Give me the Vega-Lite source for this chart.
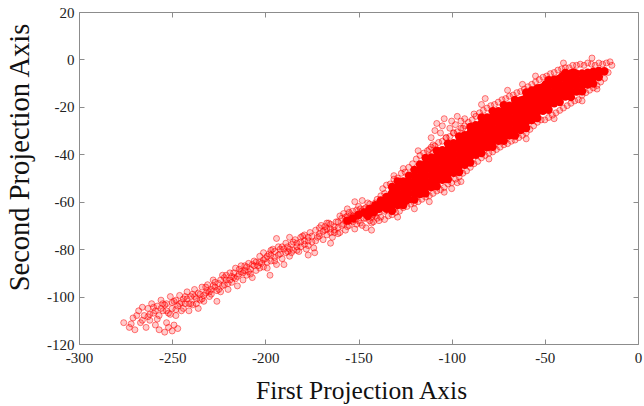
{
"$schema": "https://vega.github.io/schema/vega-lite/v6.json",
"width": 559, "height": 332,
"autosize": {"type": "none"},
"padding": {"left": 79, "top": 12, "right": 6, "bottom": 62},
"background": "white",
"config": {"view": {"stroke": "#8c8c8c", "strokeWidth": 1}, "font": "Liberation Serif"},
"datasets": {
"core": [
{"x":-156,"y":-68},{"x":-153,"y":-67},{"x":-150,"y":-65.5},{"x":-147,"y":-64.5},{"x":-145,"y":-66},{"x":-144,"y":-63},{"x":-142,"y":-64.5},{"x":-141,"y":-61.5},{"x":-139,"y":-63},
{"x":-138,"y":-62},{"x":-138,"y":-59.5},
{"x":-135,"y":-63},{"x":-135,"y":-60.5},{"x":-135,"y":-58},
{"x":-132,"y":-63.8},{"x":-132,"y":-61.3},{"x":-132,"y":-58.8},{"x":-132,"y":-56.3},{"x":-132,"y":-53.8},
{"x":-129,"y":-61.4},{"x":-129,"y":-58.9},{"x":-129,"y":-56.4},{"x":-129,"y":-53.9},{"x":-129,"y":-51.4},
{"x":-126,"y":-61.4},{"x":-126,"y":-58.9},{"x":-126,"y":-56.4},{"x":-126,"y":-53.9},{"x":-126,"y":-51.4},
{"x":-123,"y":-59},{"x":-123,"y":-56.5},{"x":-123,"y":-54},{"x":-123,"y":-51.5},{"x":-123,"y":-49},
{"x":-120,"y":-59.1},{"x":-120,"y":-56.6},{"x":-120,"y":-54.1},{"x":-120,"y":-51.6},{"x":-120,"y":-49.1},{"x":-120,"y":-46.6},
{"x":-117,"y":-56.8},{"x":-117,"y":-54.3},{"x":-117,"y":-51.8},{"x":-117,"y":-49.3},{"x":-117,"y":-46.8},{"x":-117,"y":-44.3},
{"x":-114,"y":-56.5},{"x":-114,"y":-54},{"x":-114,"y":-51.5},{"x":-114,"y":-49},{"x":-114,"y":-46.5},{"x":-114,"y":-44},{"x":-114,"y":-41.5},
{"x":-111,"y":-53.8},{"x":-111,"y":-51.3},{"x":-111,"y":-48.8},{"x":-111,"y":-46.3},{"x":-111,"y":-43.8},{"x":-111,"y":-41.3},
{"x":-108,"y":-53.5},{"x":-108,"y":-51},{"x":-108,"y":-48.5},{"x":-108,"y":-46},{"x":-108,"y":-43.5},{"x":-108,"y":-41},{"x":-108,"y":-38.5},
{"x":-105,"y":-50.8},{"x":-105,"y":-48.3},{"x":-105,"y":-45.8},{"x":-105,"y":-43.3},{"x":-105,"y":-40.8},{"x":-105,"y":-38.3},
{"x":-102,"y":-50.5},{"x":-102,"y":-48},{"x":-102,"y":-45.5},{"x":-102,"y":-43},{"x":-102,"y":-40.5},{"x":-102,"y":-38},{"x":-102,"y":-35.5},
{"x":-99,"y":-47.8},{"x":-99,"y":-45.3},{"x":-99,"y":-42.8},{"x":-99,"y":-40.3},{"x":-99,"y":-37.8},{"x":-99,"y":-35.3},
{"x":-96,"y":-47.5},{"x":-96,"y":-45},{"x":-96,"y":-42.5},{"x":-96,"y":-40},{"x":-96,"y":-37.5},{"x":-96,"y":-35},{"x":-96,"y":-32.5},
{"x":-93,"y":-44.4},{"x":-93,"y":-41.9},{"x":-93,"y":-39.4},{"x":-93,"y":-36.9},{"x":-93,"y":-34.4},{"x":-93,"y":-31.9},
{"x":-90,"y":-43.5},{"x":-90,"y":-41},{"x":-90,"y":-38.5},{"x":-90,"y":-36},{"x":-90,"y":-33.5},{"x":-90,"y":-31},{"x":-90,"y":-28.5},
{"x":-87,"y":-40.2},{"x":-87,"y":-37.7},{"x":-87,"y":-35.2},{"x":-87,"y":-32.7},{"x":-87,"y":-30.2},{"x":-87,"y":-27.7},
{"x":-84,"y":-39.5},{"x":-84,"y":-37},{"x":-84,"y":-34.5},{"x":-84,"y":-32},{"x":-84,"y":-29.5},{"x":-84,"y":-27},{"x":-84,"y":-24.5},
{"x":-81,"y":-37},{"x":-81,"y":-34.5},{"x":-81,"y":-32},{"x":-81,"y":-29.5},{"x":-81,"y":-27},{"x":-81,"y":-24.5},
{"x":-78,"y":-36.8},{"x":-78,"y":-34.3},{"x":-78,"y":-31.8},{"x":-78,"y":-29.3},{"x":-78,"y":-26.8},{"x":-78,"y":-24.3},{"x":-78,"y":-21.8},
{"x":-75,"y":-34.3},{"x":-75,"y":-31.8},{"x":-75,"y":-29.3},{"x":-75,"y":-26.8},{"x":-75,"y":-24.3},{"x":-75,"y":-21.8},
{"x":-72,"y":-34.3},{"x":-72,"y":-31.8},{"x":-72,"y":-29.3},{"x":-72,"y":-26.8},{"x":-72,"y":-24.3},{"x":-72,"y":-21.8},{"x":-72,"y":-19.3},
{"x":-69,"y":-32},{"x":-69,"y":-29.5},{"x":-69,"y":-27},{"x":-69,"y":-24.5},{"x":-69,"y":-22},{"x":-69,"y":-19.5},
{"x":-66,"y":-32.1},{"x":-66,"y":-29.6},{"x":-66,"y":-27.1},{"x":-66,"y":-24.6},{"x":-66,"y":-22.1},{"x":-66,"y":-19.6},{"x":-66,"y":-17.1},
{"x":-63,"y":-29.8},{"x":-63,"y":-27.3},{"x":-63,"y":-24.8},{"x":-63,"y":-22.3},{"x":-63,"y":-19.8},{"x":-63,"y":-17.3},
{"x":-60,"y":-28.9},{"x":-60,"y":-26.4},{"x":-60,"y":-23.9},{"x":-60,"y":-21.4},{"x":-60,"y":-18.9},{"x":-60,"y":-16.4},{"x":-60,"y":-13.9},
{"x":-57,"y":-25.6},{"x":-57,"y":-23.1},{"x":-57,"y":-20.6},{"x":-57,"y":-18.1},{"x":-57,"y":-15.6},{"x":-57,"y":-13.1},
{"x":-54,"y":-24.7},{"x":-54,"y":-22.2},{"x":-54,"y":-19.7},{"x":-54,"y":-17.2},{"x":-54,"y":-14.7},{"x":-54,"y":-12.2},
{"x":-51,"y":-21.7},{"x":-51,"y":-19.2},{"x":-51,"y":-16.7},{"x":-51,"y":-14.2},{"x":-51,"y":-11.7},
{"x":-48,"y":-21.2},{"x":-48,"y":-18.7},{"x":-48,"y":-16.2},{"x":-48,"y":-13.7},{"x":-48,"y":-11.2},{"x":-48,"y":-8.7},
{"x":-45,"y":-18.5},{"x":-45,"y":-16},{"x":-45,"y":-13.5},{"x":-45,"y":-11},{"x":-45,"y":-8.5},
{"x":-42,"y":-18},{"x":-42,"y":-15.5},{"x":-42,"y":-13},{"x":-42,"y":-10.5},{"x":-42,"y":-8},
{"x":-39,"y":-15.7},{"x":-39,"y":-13.2},{"x":-39,"y":-10.7},{"x":-39,"y":-8.2},{"x":-39,"y":-5.7},
{"x":-36,"y":-15.9},{"x":-36,"y":-13.4},{"x":-36,"y":-10.9},{"x":-36,"y":-8.4},{"x":-36,"y":-5.9},
{"x":-33,"y":-13.5},{"x":-33,"y":-11},{"x":-33,"y":-8.5},{"x":-33,"y":-6},
{"x":-30,"y":-13.4},{"x":-30,"y":-10.9},{"x":-30,"y":-8.4},{"x":-30,"y":-5.9},
{"x":-27,"y":-10.6},{"x":-27,"y":-8.1},{"x":-27,"y":-5.6},
{"x":-24,"y":-10.2},{"x":-24,"y":-7.7},{"x":-24,"y":-5.2},
{"x":-21,"y":-7.4},{"x":-21,"y":-4.9},
{"x":-18,"y":-5},
{"x":-130.5,"y":-60},{"x":-127.5,"y":-57.5},{"x":-124.5,"y":-55},{"x":-121.5,"y":-52.5},{"x":-118.5,"y":-50.5},{"x":-115.5,"y":-48},{"x":-112.5,"y":-45.5},{"x":-109.5,"y":-44.5},{"x":-106.5,"y":-42},{"x":-103.5,"y":-39.5},{"x":-100.5,"y":-38.5},{"x":-97.5,"y":-36.5},{"x":-94.5,"y":-34},{"x":-91.5,"y":-32},{"x":-88.5,"y":-30},{"x":-85.5,"y":-28.5},{"x":-82.5,"y":-27.5},{"x":-79.5,"y":-25.5},{"x":-76.5,"y":-23.5},{"x":-73.5,"y":-22.5},{"x":-70.5,"y":-21},{"x":-67.5,"y":-20},{"x":-64.5,"y":-18.5},{"x":-61.5,"y":-17},{"x":-58.5,"y":-15},{"x":-55.5,"y":-13.5},{"x":-52.5,"y":-12},{"x":-49.5,"y":-10.5},{"x":-46.5,"y":-9.5},{"x":-43.5,"y":-8.5},{"x":-40.5,"y":-7},{"x":-37.5,"y":-6.5},{"x":-34.5,"y":-5.5},
{"x":-130.5,"y":-56},{"x":-124.5,"y":-59.5},{"x":-118.5,"y":-55},{"x":-112.5,"y":-52},{"x":-106.5,"y":-49},{"x":-100.5,"y":-45},{"x":-94.5,"y":-42},{"x":-88.5,"y":-38},{"x":-82.5,"y":-35},{"x":-76.5,"y":-31.5},{"x":-70.5,"y":-28.5},{"x":-64.5,"y":-25.5},{"x":-58.5,"y":-22},{"x":-52.5,"y":-18.5},{"x":-46.5,"y":-15.5},{"x":-40.5,"y":-12.5},{"x":-34.5,"y":-10},{"x":-28.5,"y":-8.5}
],
"pts": [
{"x":-276,"y":-111},{"x":-273,"y":-113},{"x":-271,"y":-109},{"x":-270,"y":-114},{"x":-268,"y":-106},{"x":-267,"y":-111},{"x":-265,"y":-108},{"x":-264,"y":-113},{"x":-266,"y":-104.5},
{"x":-263,"y":-105},{"x":-262,"y":-110},{"x":-261,"y":-103},{"x":-260,"y":-107},{"x":-259,"y":-112},{"x":-258,"y":-104},{"x":-257,"y":-108},{"x":-256,"y":-101.5},{"x":-255,"y":-106},{"x":-257,"y":-114},{"x":-254,"y":-115},
{"x":-252,"y":-113},{"x":-250,"y":-114.5},{"x":-249,"y":-112},{"x":-247,"y":-113.5},{"x":-253,"y":-111},
{"x":-253,"y":-103},{"x":-252,"y":-107},{"x":-251,"y":-100},{"x":-250,"y":-105},{"x":-249,"y":-102},{"x":-248,"y":-108},{"x":-247,"y":-104},{"x":-246,"y":-99.5},{"x":-245,"y":-106},{"x":-244,"y":-101},
{"x":-243,"y":-103},{"x":-242,"y":-98},{"x":-241,"y":-106},{"x":-240,"y":-100},{"x":-239,"y":-103.5},{"x":-238,"y":-97},{"x":-237,"y":-101},{"x":-236,"y":-105},{"x":-235,"y":-99},{"x":-234,"y":-96},
{"x":-233,"y":-102},{"x":-232,"y":-98.5},{"x":-231,"y":-95},{"x":-230,"y":-100},{"x":-229,"y":-97},{"x":-228,"y":-93},{"x":-227,"y":-96},{"x":-226,"y":-102},{"x":-225,"y":-94.5},{"x":-224,"y":-98},
{"x":-223,"y":-91},{"x":-222,"y":-95},{"x":-221,"y":-93},{"x":-220,"y":-97},{"x":-219,"y":-90},{"x":-218,"y":-94},{"x":-217,"y":-92},{"x":-216,"y":-88},{"x":-215,"y":-95.5},{"x":-214,"y":-90.5},
{"x":-213,"y":-87},{"x":-212,"y":-93},{"x":-211,"y":-89},{"x":-210,"y":-91},{"x":-209,"y":-86},{"x":-208,"y":-88.5},{"x":-207,"y":-92},{"x":-206,"y":-85},{"x":-205,"y":-89},{"x":-204,"y":-87},
{"x":-203,"y":-83},{"x":-202,"y":-86},{"x":-201,"y":-81.5},{"x":-200,"y":-84},{"x":-199,"y":-88},{"x":-198,"y":-82},{"x":-197,"y":-85},{"x":-196,"y":-80},{"x":-195,"y":-83.5},{"x":-194,"y":-86.5},
{"x":-193,"y":-79},{"x":-192,"y":-82},{"x":-191,"y":-84},{"x":-190,"y":-80},{"x":-189,"y":-77.5},{"x":-188,"y":-81},{"x":-187,"y":-83},{"x":-186,"y":-78},{"x":-185,"y":-80.5},
{"x":-184,"y":-76},{"x":-183,"y":-79},{"x":-182,"y":-81},{"x":-181,"y":-77},{"x":-180,"y":-74.5},{"x":-179,"y":-78},{"x":-178,"y":-80},{"x":-177,"y":-75},{"x":-176,"y":-73},{"x":-175,"y":-77},{"x":-174,"y":-79.5},
{"x":-173,"y":-72},{"x":-172,"y":-75},{"x":-171,"y":-73.5},{"x":-170,"y":-70},{"x":-169,"y":-76},{"x":-168,"y":-72},{"x":-167,"y":-74},{"x":-166,"y":-69},{"x":-165,"y":-71.5},{"x":-164,"y":-75},{"x":-163,"y":-73},{"x":-162,"y":-68.5},
{"x":-161,"y":-71},{"x":-160,"y":-73},{"x":-159,"y":-67},{"x":-158,"y":-69.5},{"x":-157,"y":-72},{"x":-156,"y":-66},{"x":-155,"y":-70},{"x":-154,"y":-68},{"x":-153,"y":-64},{"x":-152,"y":-71.5},{"x":-151,"y":-66.5},{"x":-160,"y":-66},
{"x":-150,"y":-62},{"x":-150,"y":-68},{"x":-149,"y":-65},{"x":-148,"y":-70},{"x":-147,"y":-63},{"x":-146,"y":-67},{"x":-145,"y":-60.5},{"x":-144,"y":-65},{"x":-143,"y":-69},{"x":-142,"y":-62},{"x":-141,"y":-66},{"x":-140,"y":-59},{"x":-139,"y":-68},{"x":-148,"y":-59.5},{"x":-146,"y":-71},{"x":-152,"y":-60},{"x":-155,"y":-64.5},{"x":-143,"y":-72},
{"x":-194,"y":-75.5},{"x":-187,"y":-75},{"x":-197.5,"y":-91},{"x":-177,"y":-82.5},{"x":-173.5,"y":-81.5},{"x":-190,"y":-86.5},{"x":-165,"y":-77.5},
{"x":-262,"y":-107.5},{"x":-258,"y":-109.5},{"x":-254,"y":-103.5},{"x":-251,"y":-107.5},{"x":-248,"y":-101.5},{"x":-246,"y":-103},{"x":-244,"y":-105},{"x":-242,"y":-101},{"x":-240,"y":-103},{"x":-238,"y":-100},{"x":-236,"y":-98.5},{"x":-234,"y":-101},{"x":-232,"y":-96},{"x":-230,"y":-98},{"x":-228,"y":-95.5},{"x":-226,"y":-97.5},{"x":-224,"y":-93},{"x":-222,"y":-92},{"x":-220,"y":-94.5},{"x":-218,"y":-91.5},{"x":-216,"y":-92.5},{"x":-214,"y":-88.5},{"x":-212,"y":-90},{"x":-210,"y":-87.5},{"x":-208,"y":-90.5},{"x":-206,"y":-87},{"x":-203,"y":-85.5},{"x":-201,"y":-87.5},{"x":-199,"y":-83},{"x":-197,"y":-82.5},{"x":-195,"y":-81},{"x":-192,"y":-80},{"x":-188,"y":-79},{"x":-186,"y":-81.5},{"x":-183,"y":-77.5},{"x":-181,"y":-75},{"x":-179,"y":-76.5},{"x":-177,"y":-78.5},{"x":-171,"y":-71},{"x":-168,"y":-70.5},{"x":-167,"y":-71.5},{"x":-165,"y":-73},{"x":-163,"y":-70.5},{"x":-161,"y":-68.5},
{"x":-158,"y":-65},{"x":-157,"y":-68},{"x":-156,"y":-70.5},{"x":-154,"y":-65.5},{"x":-153,"y":-68.5},{"x":-151,"y":-63.5},{"x":-150,"y":-66},{"x":-149,"y":-69},{"x":-148,"y":-64},{"x":-147,"y":-67},{"x":-146,"y":-62.5},{"x":-145,"y":-66},{"x":-144,"y":-68},{"x":-143,"y":-63},{"x":-142,"y":-65.5},{"x":-141,"y":-60.5},{"x":-140,"y":-63.5},{"x":-139,"y":-61},{"x":-138,"y":-66.5},{"x":-137,"y":-62.5},{"x":-140,"y":-67},
{"x":-272,"y":-111.5},{"x":-269,"y":-108},{"x":-266,"y":-110},{"x":-263,"y":-108.5},{"x":-260,"y":-104.5},{"x":-259,"y":-106},{"x":-256,"y":-105},{"x":-255,"y":-103},{"x":-253,"y":-106},{"x":-250,"y":-102.5},{"x":-248,"y":-105.5},{"x":-245,"y":-102.5},{"x":-243,"y":-100},{"x":-241,"y":-103},{"x":-239,"y":-99},{"x":-237,"y":-103},{"x":-235,"y":-101.5},{"x":-233,"y":-99.5},{"x":-231,"y":-97.5},{"x":-229,"y":-99},{"x":-227,"y":-94},{"x":-225,"y":-97},{"x":-223,"y":-95.5},{"x":-221,"y":-91},{"x":-219,"y":-93},{"x":-217,"y":-90},{"x":-215,"y":-91.5},{"x":-213,"y":-89.5},{"x":-211,"y":-87},{"x":-209,"y":-89.5},{"x":-207,"y":-86.5},{"x":-205,"y":-85.5},{"x":-203,"y":-88},{"x":-201,"y":-84.5},{"x":-199,"y":-85.5},{"x":-197,"y":-80.5},{"x":-195,"y":-85},{"x":-193,"y":-82.5},{"x":-191,"y":-79},{"x":-189,"y":-81.5},{"x":-187,"y":-80},{"x":-185,"y":-77},{"x":-183,"y":-80.5},{"x":-181,"y":-79},{"x":-179,"y":-74},{"x":-177,"y":-76.5},{"x":-175,"y":-74.5},{"x":-173,"y":-76.5},{"x":-171,"y":-74.5},{"x":-169,"y":-72.5},{"x":-167,"y":-69},{"x":-165,"y":-69.5},{"x":-163,"y":-72},{"x":-161,"y":-73.5},{"x":-159,"y":-70},{"x":-157,"y":-66.5},{"x":-155,"y":-68},{"x":-153,"y":-66},{"x":-151,"y":-69.5},{"x":-149,"y":-63},{"x":-147,"y":-65},{"x":-145,"y":-63.5},{"x":-143,"y":-66.5},{"x":-141,"y":-64},{"x":-139,"y":-64.5},{"x":-137,"y":-60},{"x":-136,"y":-64},{"x":-135,"y":-61.5},{"x":-138,"y":-57.5},{"x":-136,"y":-56.5},{"x":-134,"y":-58.5},{"x":-140,"y":-61.5},{"x":-142,"y":-68.5},{"x":-144,"y":-61},{"x":-146,"y":-64.5},{"x":-152,"y":-67.5},{"x":-156,"y":-63},
{"x":-137,"y":-54.5},{"x":-135,"y":-53},{"x":-133,"y":-52.5},{"x":-131,"y":-50.5},{"x":-129,"y":-50},{"x":-127,"y":-48},{"x":-125,"y":-47.5},{"x":-123,"y":-45.5},{"x":-121,"y":-44},{"x":-119,"y":-42},{"x":-117,"y":-40.5},{"x":-115,"y":-39.5},{"x":-113,"y":-38.5},{"x":-111,"y":-37},{"x":-109,"y":-36.5},{"x":-107,"y":-35},{"x":-105,"y":-34.5},{"x":-103,"y":-33},{"x":-101,"y":-32.5},{"x":-99,"y":-31},{"x":-97,"y":-30.5},{"x":-95,"y":-29},{"x":-93,"y":-28},{"x":-91,"y":-26.5},{"x":-89,"y":-25.5},{"x":-87,"y":-24},{"x":-85,"y":-22.5},{"x":-83,"y":-21.5},{"x":-81,"y":-20.5},{"x":-79,"y":-19.5},{"x":-77,"y":-19},{"x":-75,"y":-18},{"x":-73,"y":-17},{"x":-71,"y":-16.5},{"x":-69,"y":-15.5},{"x":-67,"y":-15},{"x":-65,"y":-14},{"x":-63,"y":-13.5},{"x":-61,"y":-12.5},{"x":-59,"y":-11.5},{"x":-57,"y":-10.5},{"x":-55,"y":-9.5},{"x":-53,"y":-8.5},{"x":-51,"y":-7.5},{"x":-49,"y":-7},{"x":-47,"y":-6},{"x":-45,"y":-5.5},{"x":-43,"y":-4.5},{"x":-41,"y":-4},{"x":-39,"y":-3.5},{"x":-37,"y":-3.5},{"x":-35,"y":-2.5},{"x":-33,"y":-2.5},{"x":-31,"y":-2},{"x":-29,"y":-2.5},{"x":-27,"y":-1.5},{"x":-25,"y":-2},{"x":-24.7,"y":0.6},{"x":-23,"y":-2.5},{"x":-21,"y":-1.5},{"x":-19,"y":-2},{"x":-17,"y":-1.5},{"x":-15,"y":-1},{"x":-14,"y":-2.5},
{"x":-136,"y":-67.5},{"x":-134,"y":-66},{"x":-132,"y":-65.5},{"x":-130,"y":-64.5},{"x":-128,"y":-64},{"x":-126,"y":-62.5},{"x":-124,"y":-62},{"x":-122,"y":-61},{"x":-120,"y":-60.5},{"x":-118,"y":-60},{"x":-116,"y":-59},{"x":-114,"y":-58},{"x":-112,"y":-57.5},{"x":-110,"y":-56.5},{"x":-108,"y":-55.5},{"x":-106,"y":-55},{"x":-104,"y":-54},{"x":-102,"y":-52.5},{"x":-100,"y":-52},{"x":-98,"y":-50.5},{"x":-96,"y":-49.5},{"x":-94,"y":-48},{"x":-92,"y":-47},{"x":-90,"y":-45.5},{"x":-88,"y":-44},{"x":-86,"y":-43},{"x":-84,"y":-41.5},{"x":-82,"y":-40.5},{"x":-80,"y":-39.5},{"x":-78,"y":-39},{"x":-76,"y":-38},{"x":-74,"y":-37},{"x":-72,"y":-36},{"x":-70,"y":-35.5},{"x":-68,"y":-34.5},{"x":-66,"y":-34},{"x":-64,"y":-33},{"x":-62,"y":-32},{"x":-60,"y":-31},{"x":-58,"y":-29.5},{"x":-56,"y":-28},{"x":-54,"y":-26.5},{"x":-52,"y":-25.5},{"x":-50,"y":-25.5},{"x":-48,"y":-24.5},{"x":-46,"y":-23.5},{"x":-44,"y":-22.5},{"x":-42,"y":-21.5},{"x":-40,"y":-20.5},{"x":-38,"y":-19.5},{"x":-36,"y":-18.5},{"x":-34,"y":-17.5},{"x":-32,"y":-17},{"x":-30,"y":-15},{"x":-28,"y":-14},{"x":-26,"y":-13},{"x":-24,"y":-12},{"x":-22,"y":-11},{"x":-20,"y":-9.5},{"x":-18,"y":-8},{"x":-16,"y":-5.5},
{"x":-120,"y":-63},{"x":-112,"y":-60},{"x":-95,"y":-51.5},{"x":-80,"y":-42},{"x":-60,"y":-33.5},{"x":-45,"y":-25},{"x":-30,"y":-17.5},{"x":-70,"y":-13},{"x":-55,"y":-7},{"x":-40,"y":-1.5},{"x":-62,"y":-10.5},{"x":-118,"y":-38.5},{"x":-126,"y":-46},{"x":-131,"y":-49},{"x":-129,"y":-66.5},{"x":-22,"y":-12.5},
{"x":-111,"y":-33},{"x":-110,"y":-36},{"x":-109,"y":-30},{"x":-108,"y":-27},{"x":-106,"y":-31},{"x":-105,"y":-28},{"x":-104,"y":-25},{"x":-103,"y":-33},{"x":-101,"y":-29},{"x":-100,"y":-26},{"x":-99,"y":-31},{"x":-98,"y":-27.5},{"x":-97,"y":-24},{"x":-95,"y":-26},{"x":-94,"y":-29},{"x":-93,"y":-25},{"x":-112,"y":-38},{"x":-110,"y":-39.5},{"x":-84,"y":-19},{"x":-82,"y":-16.5},{"x":-88,"y":-23},
{"x":-104,"y":-56},{"x":-100,"y":-54.5},{"x":-97,"y":-52}
]
},
"layer": [
{
"data": {"name": "core"},
"mark": {"type": "circle", "size": 70, "color": "#ff0000", "opacity": 1},
"encoding": {
"x": {"field": "x", "type": "quantitative", "scale": {"domain": [-300, 0], "nice": false, "zero": false},
"axis": {"orient": "bottom", "values": [-300, -250, -200, -150, -100, -50, 0], "labelExpr": "'' + datum.value", "grid": false, "domain": false, "tickSize": -5, "tickColor": "#8c8c8c", "labelFont": "Liberation Serif", "labelFontSize": 15, "labelColor": "#222", "labelPadding": 11, "labelFlush": false, "title": "First Projection Axis", "titleFont": "Liberation Serif", "titleFontSize": 25.5, "titleFontWeight": "normal", "titleColor": "#111", "titleX": 282, "titleY": 54, "titleBaseline": "alphabetic"}},
"y": {"field": "y", "type": "quantitative", "scale": {"domain": [-120, 20], "nice": false, "zero": false},
"axis": {"orient": "left", "values": [-120, -100, -80, -60, -40, -20, 0, 20], "labelExpr": "'' + datum.value", "grid": false, "domain": false, "tickSize": -5, "tickColor": "#8c8c8c", "labelFont": "Liberation Serif", "labelFontSize": 15, "labelColor": "#222", "labelPadding": 10, "labelFlush": false, "title": "Second Projection Axis", "titleFont": "Liberation Serif", "titleFontSize": 28.5, "titleFontWeight": "normal", "titleColor": "#111", "titleX": -51, "titleY": 145, "titleBaseline": "alphabetic", "titleAngle": -90}}
}
},
{
"data": {"name": "pts"},
"mark": {"type": "point", "shape": "circle", "size": 36, "filled": true, "fill": "#ff0000", "fillOpacity": 0.2, "stroke": "#ff0000", "strokeOpacity": 0.5, "strokeWidth": 1},
"encoding": {
"x": {"field": "x", "type": "quantitative", "scale": {"domain": [-300, 0], "nice": false, "zero": false},
"axis": {"orient": "top", "values": [-300, -250, -200, -150, -100, -50, 0], "grid": false, "domain": false, "tickSize": -5, "tickColor": "#8c8c8c", "labels": false, "title": null}},
"y": {"field": "y", "type": "quantitative", "scale": {"domain": [-120, 20], "nice": false, "zero": false},
"axis": {"orient": "right", "values": [-120, -100, -80, -60, -40, -20, 0, 20], "grid": false, "domain": false, "tickSize": -5, "tickColor": "#8c8c8c", "labels": false, "title": null}}
}
}
],
"resolve": {"axis": {"x": "independent", "y": "independent"}}
}
